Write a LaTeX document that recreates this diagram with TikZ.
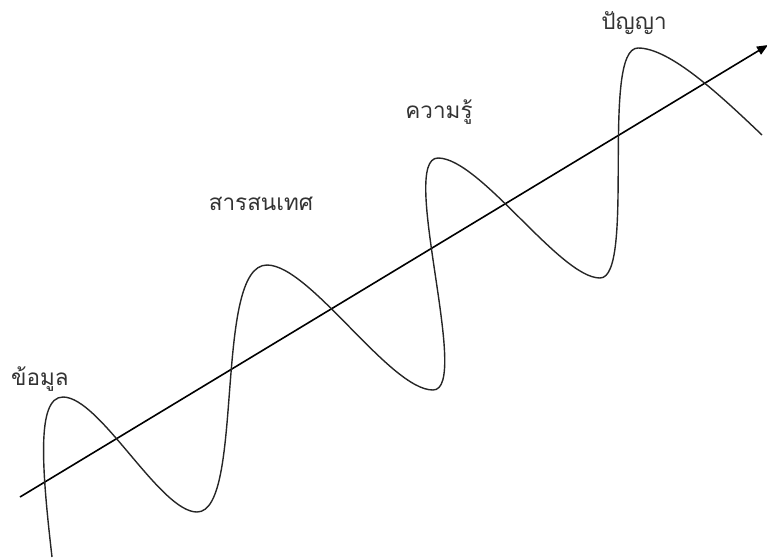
\documentclass[tikz,border=0pt]{standalone}
\usepackage{fontspec}
\newfontfamily\thaifont[Script=Thai]{Loma}
\usetikzlibrary{arrows.meta}
\begin{document}
\begin{tikzpicture}[x=1pt,y=-1pt,
  lbl/.style={font=\thaifont\fontsize{22.5}{26}\selectfont, inner sep=0pt, text=black!80},
  wave/.style={line width=1.4pt, black!85},
  axis/.style={line width=1.6pt, -{Triangle[length=11pt,width=9pt]}}]
\useasboundingbox (0,0) rectangle (767,558);
\coordinate (A0) at (20,497);
\coordinate (A1) at (768,45);
\draw[axis] (A0) -- (A1);
\coordinate (S) at (52,557);
\coordinate (P1) at (63,397);
\coordinate (T1) at (197,512);
\coordinate (P2) at (267,265);
\coordinate (T2) at (433,390);
\coordinate (P3) at (438,158);
\coordinate (T3) at (600,278);
\coordinate (P4) at (638,48);
\coordinate (E) at (762,135);
\draw[wave] (S) .. controls (42,470) and (36,397) .. (P1)
  .. controls (100,397) and (160,512) .. (T1)
  .. controls (245,512) and (213,265) .. (P2)
  .. controls (310,265) and (390,390) .. (T2)
  .. controls (472,390) and (398,158) .. (P3)
  .. controls (480,158) and (560,278) .. (T3)
  .. controls (636,278) and (600,48) .. (P4)
  .. controls (670,48) and (720,95) .. (E);
\node[lbl] (l1) at (40,379) {ข้อมูล};
\node[lbl] (l2) at (261,204) {สารสนเทศ};
\node[lbl] (l3) at (439,112) {ความรู้};
\node[lbl] (l4) at (634,23) {ปัญญา};
\end{tikzpicture}
\end{document}
